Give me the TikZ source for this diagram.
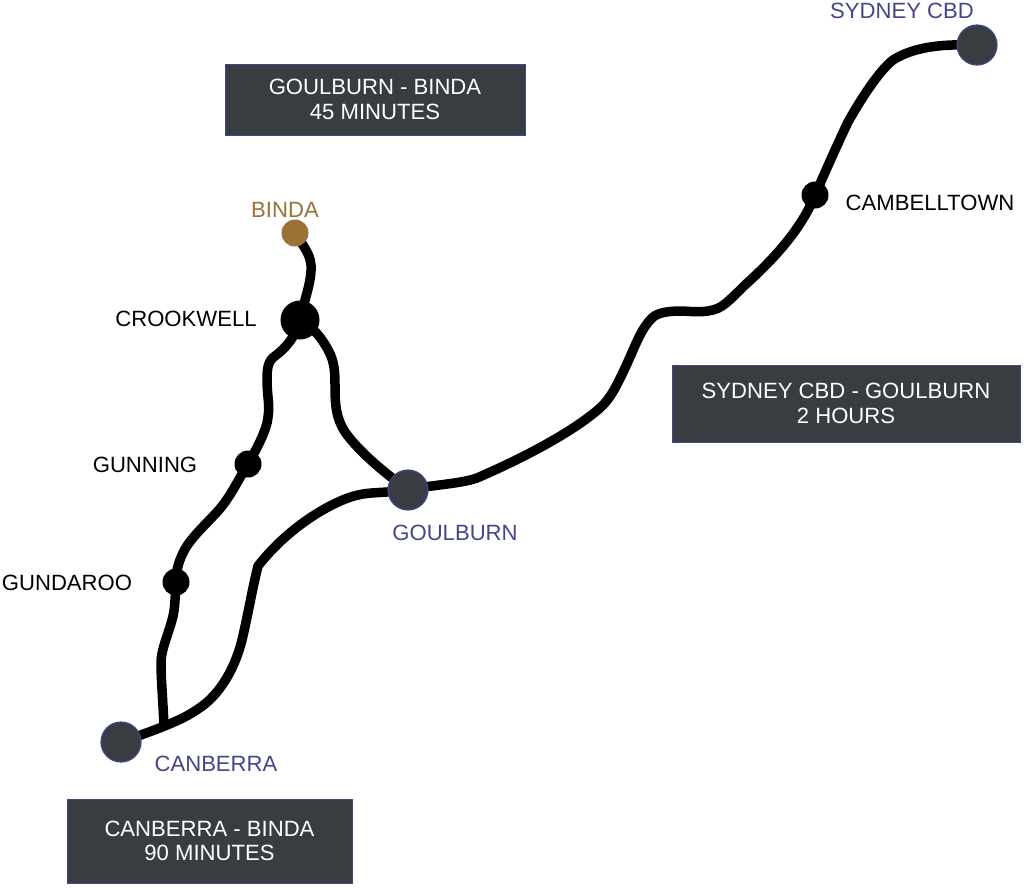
\documentclass[tikz,border=0pt]{standalone}
\usepackage{fontspec}
\setmainfont{Liberation Sans}
\usetikzlibrary{backgrounds}
\definecolor{slate}{HTML}{373D40}
\definecolor{edge}{HTML}{45458A}
\definecolor{brownc}{HTML}{9A7235}
\tikzset{
 every node/.style={font=\fontsize{22.1}{24.5}\selectfont},
 hub/.style={circle,fill=slate,draw=edge,line width=1.2pt,minimum size=40pt,inner sep=0pt},
 stop/.style={circle,fill=black,minimum size=27pt,inner sep=0pt},
 bigstop/.style={circle,fill=black,minimum size=39pt,inner sep=0pt},
 bindadot/.style={circle,fill=brownc,minimum size=27pt,inner sep=0pt},
 infobox/.style={rectangle,fill=slate,draw=edge,line width=1pt,text=white,align=center,inner sep=0pt},
 route/.style={draw=black,line width=9.5pt,line join=round},
 hublabel/.style={text=edge,inner sep=0pt},
 stoplabel/.style={text=black,inner sep=0pt},
}
\begin{document}
\begin{tikzpicture}[x=1pt,y=-1pt]
\useasboundingbox (0,0) rectangle (1024,887);
\node[hub] (sydney) at (977,45) {};
\node[hub] (goulburn) at (408,490) {};
\node[hub] (canberra) at (121,742) {};
\node[bindadot] (binda) at (295,233) {};
\node[bigstop] (crookwell) at (300,320) {};
\node[stop] (gunning) at (248,464) {};
\node[stop] (gundaroo) at (176,582) {};
\node[stop] (camp) at (815,195) {};
\coordinate (junction) at (164,727);
\begin{scope}[on background layer]
\fill[white] (0,0) rectangle (1024,887);
\draw[route] (sydney.center) .. controls (945,44) and (915,46) .. (893,60) .. controls (880,70) and (862,97) .. (848,122) .. controls (838,143) and (826,170) .. (camp.center);
\draw[route] (camp.center) .. controls (802,228) and (775,258) .. (745,285) .. controls (735,295) and (728,302) .. (722,306) .. controls (712,313) and (695,312) .. (683,311) .. controls (670,311) and (658,312) .. (652,318) .. controls (640,330) and (635,347) .. (625,368) .. controls (617,385) and (611,398) .. (600,408) .. controls (575,430) and (530,455) .. (477,478) .. controls (460,484) and (430,485) .. (goulburn.center);
\draw[route] (goulburn.center) .. controls (385,473) and (360,453) .. (345,432) .. controls (336,418) and (335,405) .. (335,385) .. controls (335,362) and (332,355) .. (322,340) .. controls (315,330) and (308,325) .. (crookwell.center);
\draw[route] (crookwell.center) .. controls (304,300) and (312,282) .. (311,265) .. controls (310,252) and (300,242) .. (binda.center);
\draw[route] (crookwell.center) .. controls (297,335) and (285,349) .. (275,356) .. controls (268,361) and (267,368) .. (267,380) .. controls (267,395) and (270,405) .. (268,417) .. controls (267,430) and (256,450) .. (gunning.center);
\draw[route] (gunning.center) .. controls (238,480) and (230,498) .. (217,512) .. controls (205,525) and (192,537) .. (185,549) .. controls (179,560) and (176,570) .. (gundaroo.center);
\draw[route] (gundaroo.center) .. controls (175,600) and (175,610) .. (172,620) .. controls (169,632) and (161,650) .. (161,662) .. controls (161,680) and (163,700) .. (junction);
\draw[route] (goulburn.center) .. controls (385,493) and (370,492) .. (358,495) .. controls (335,500) and (290,525) .. (258,566) .. controls (252,590) and (249,610) .. (242,640) .. controls (235,668) and (220,695) .. (198,709) .. controls (185,718) and (170,725) .. (canberra.center);
\end{scope}
\node[infobox,minimum width=300pt,minimum height=71pt] (boxa) at (375,99.5) {GOULBURN - BINDA\\45 MINUTES};
\node[infobox,minimum width=348pt,minimum height=77pt] (boxb) at (846,403.5) {SYDNEY CBD - GOULBURN\\2 HOURS};
\node[infobox,minimum width=285pt,minimum height=84pt] (boxc) at (209.5,841) {CANBERRA - BINDA\\90 MINUTES};
\node[hublabel] (lsyd) at (902,11) {SYDNEY CBD};
\node[hublabel] (lgou) at (455,533) {GOULBURN};
\node[hublabel] (lcan) at (216,764) {CANBERRA};
\node[text=brownc,inner sep=0pt] (lbin) at (285,210) {BINDA};
\node[stoplabel] (lcam) at (930,203) {CAMBELLTOWN};
\node[stoplabel] (lcro) at (186,319) {CROOKWELL};
\node[stoplabel] (lgun) at (145,465) {GUNNING};
\node[stoplabel] (lgdr) at (67,583) {GUNDAROO};
\end{tikzpicture}
\end{document}
